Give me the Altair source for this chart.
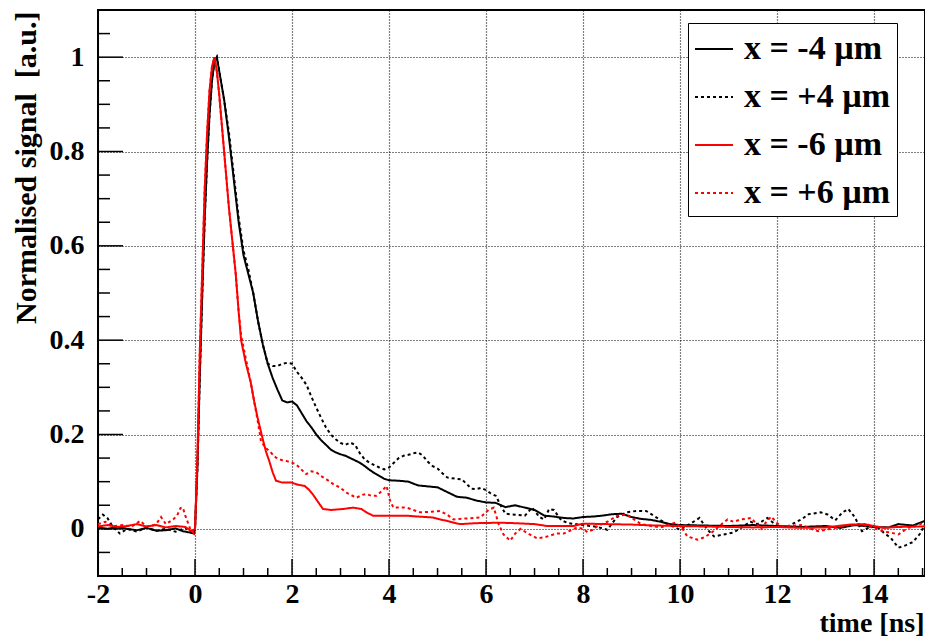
import altair as alt
import pandas as pd

# ---------------- data ----------------
series_names = ["x = -4 µm", "x = +4 µm", "x = -6 µm", "x = +6 µm"]
series_colors = ["#000000", "#000000", "#ff0000", "#ff0000"]

# black solid, x = -4 um
t_m4 = [-2, -1.8, -1.6, -1.4, -1.2, -1.0, -0.8, -0.6, -0.4, -0.25, -0.1, -0.02, 0.0,
        0.05, 0.1, 0.15, 0.2, 0.25, 0.3, 0.35, 0.4, 0.45, 0.5, 0.6, 0.7, 0.8, 0.9, 1.0,
        1.1, 1.2, 1.3, 1.4, 1.5, 1.6, 1.7, 1.8, 1.9, 2.0, 2.1, 2.2, 2.3, 2.4, 2.5, 2.6,
        2.7, 2.8, 2.9, 3.0, 3.1, 3.2, 3.3, 3.4, 3.5, 3.6, 3.7, 3.8, 3.9, 4.0, 4.2, 4.4,
        4.6, 4.8, 5.0, 5.2, 5.4, 5.6, 5.8, 6.0, 6.2, 6.4, 6.6, 6.8, 7.0, 7.2, 7.4, 7.6,
        7.8, 8.0, 8.2, 8.4, 8.6, 8.8, 9.0, 9.2, 9.4, 9.6, 9.8, 10.0, 10.5, 11.0, 11.5,
        12.0, 12.5, 13.0, 13.3, 13.6, 14.0, 14.3, 14.5, 14.8, 15.05]
v_m4 = [0.003, 0.0, 0.004, 0.0, -0.003, 0.002, -0.004, -0.003, 0.001, -0.005, -0.008, -0.01, 0.0,
        0.13, 0.33, 0.5, 0.66, 0.78, 0.88, 0.95, 0.99, 1.0, 0.97, 0.91, 0.83, 0.74, 0.65, 0.58,
        0.54, 0.5, 0.44, 0.39, 0.35, 0.32, 0.295, 0.272, 0.268, 0.27, 0.262, 0.245, 0.228, 0.215, 0.2, 0.188,
        0.178, 0.168, 0.162, 0.158, 0.155, 0.15, 0.145, 0.14, 0.133, 0.125, 0.118, 0.112, 0.106, 0.103, 0.102, 0.1,
        0.092, 0.09, 0.088, 0.078, 0.068, 0.066, 0.06, 0.056, 0.055, 0.046, 0.05, 0.045, 0.04, 0.028, 0.026, 0.023,
        0.022, 0.025, 0.026, 0.028, 0.031, 0.032, 0.025, 0.021, 0.019, 0.015, 0.01, 0.008, 0.007, 0.006, 0.008,
        0.006, 0.004, 0.006, 0.002, 0.008, 0.004, 0.003, 0.01, 0.007, 0.017]

# black dotted, x = +4 um
t_p4 = [-2, -1.9, -1.8, -1.7, -1.55, -1.4, -1.2, -1.0, -0.8, -0.6, -0.4, -0.2, -0.05, 0.0,
        0.05, 0.1, 0.15, 0.2, 0.25, 0.3, 0.35, 0.4, 0.45, 0.5, 0.6, 0.7, 0.8, 0.9, 1.0,
        1.1, 1.2, 1.3, 1.4, 1.5, 1.6, 1.7, 1.8, 1.9, 2.0, 2.1, 2.2, 2.3, 2.4, 2.5, 2.6,
        2.7, 2.8, 2.9, 3.0, 3.1, 3.2, 3.3, 3.4, 3.5, 3.6, 3.7, 3.8, 3.9, 4.0, 4.1, 4.2,
        4.3, 4.4, 4.5, 4.6, 4.7, 4.8, 4.9, 5.0, 5.1, 5.2, 5.3, 5.4, 5.5, 5.6, 5.7, 5.8,
        5.9, 6.0, 6.1, 6.2, 6.3, 6.4, 6.6, 6.8, 6.95, 7.1, 7.2, 7.3, 7.4, 7.55, 7.7, 8.0,
        8.3, 8.5, 8.7, 8.9, 9.1, 9.3, 9.5, 9.7, 10.0, 10.2, 10.4, 10.55, 10.7, 10.9, 11.1,
        11.3, 11.45, 11.6, 11.8, 12.0, 12.2, 12.35, 12.5, 12.65, 12.9, 13.05, 13.2, 13.35,
        13.47, 13.6, 13.75, 13.9, 14.05, 14.2, 14.35, 14.5, 14.65, 14.8, 14.95, 15.05]
v_p4 = [0.02, 0.03, 0.022, 0.005, -0.01, 0.0, -0.006, 0.003, -0.004, 0.0, -0.006, 0.002, -0.01, 0.0,
        0.13, 0.33, 0.5, 0.66, 0.78, 0.88, 0.95, 0.99, 1.0, 0.97, 0.91, 0.84, 0.75, 0.66, 0.59,
        0.55, 0.5, 0.44, 0.39, 0.35, 0.345, 0.345, 0.35, 0.352, 0.35, 0.333, 0.32, 0.305, 0.28, 0.257, 0.235,
        0.215, 0.2, 0.19, 0.182, 0.178, 0.183, 0.178, 0.16, 0.147, 0.14, 0.135, 0.13, 0.126, 0.13, 0.14, 0.15,
        0.155, 0.157, 0.16, 0.162, 0.155, 0.142, 0.133, 0.128, 0.118, 0.109, 0.107, 0.106, 0.105, 0.095, 0.085, 0.084,
        0.087, 0.082, 0.075, 0.07, 0.05, 0.032, 0.03, 0.028, 0.045, 0.025, 0.02, 0.042, 0.04, 0.018, 0.012, 0.008,
        0.004, -0.002, 0.025, 0.035, 0.038, 0.038, 0.025, 0.012, -0.002, 0.01, 0.023, 0.0, -0.016, -0.012, -0.008,
        0.005, 0.015, 0.01, 0.023, 0.006, 0.004, 0.012, 0.02, 0.031, 0.035, 0.03, 0.018, 0.035,
        0.042, 0.025, -0.005, 0.003, 0.005, -0.008, -0.02, -0.04, -0.035, -0.028, -0.01, 0.01]

# red solid, x = -6 um
t_m6 = [-2, -1.8, -1.6, -1.4, -1.2, -1.0, -0.8, -0.6, -0.4, -0.2, -0.08, 0.0,
        0.05, 0.1, 0.15, 0.2, 0.25, 0.3, 0.35, 0.4, 0.45, 0.5, 0.55, 0.6, 0.65, 0.7,
        0.77, 0.84, 0.9, 0.95, 1.05, 1.15, 1.22, 1.29, 1.39, 1.46, 1.53, 1.6, 1.67, 1.8,
        2.0, 2.1, 2.26, 2.35, 2.43, 2.55, 2.64, 2.8, 3.05, 3.26, 3.43, 3.55, 3.67, 4.0,
        4.36, 4.6, 4.91, 5.05, 5.19, 5.46, 5.8, 6.29, 6.6, 7.0, 7.26, 7.81, 8.0, 8.5,
        9.0, 9.5, 10.0, 10.5, 11.0, 11.5, 12.0, 12.5, 13.0, 13.5, 13.8, 14.2, 14.5, 15.0, 15.05]
v_m6 = [0.005, 0.008, 0.004, 0.006, 0.01, 0.005, 0.008, 0.003, 0.006, 0.004, -0.005, 0.0,
        0.15, 0.38, 0.55, 0.72, 0.84, 0.93, 0.98, 1.0, 0.97, 0.92, 0.86, 0.8, 0.74, 0.68,
        0.61, 0.54, 0.46, 0.4, 0.35, 0.31, 0.27, 0.236, 0.193, 0.165, 0.144, 0.12, 0.102, 0.098,
        0.098, 0.094, 0.091, 0.083, 0.073, 0.055, 0.042, 0.04, 0.042, 0.045, 0.042, 0.034, 0.028, 0.028,
        0.028, 0.026, 0.024, 0.02, 0.017, 0.01, 0.012, 0.013, 0.012, 0.01, 0.006, 0.006, 0.011, 0.01,
        0.009, 0.007, 0.006, 0.005, 0.004, 0.003, 0.004, 0.002, 0.003, 0.009, 0.01, 0.002, 0.004, 0.005, 0.006]

# red dotted, x = +6 um
t_p6 = [-2, -1.85, -1.7, -1.5, -1.3, -1.13, -1.0, -0.85, -0.78, -0.7, -0.6, -0.45, -0.37,
        -0.3, -0.25, -0.2, -0.1, -0.02, 0.0,
        0.05, 0.1, 0.15, 0.2, 0.25, 0.3, 0.35, 0.4, 0.45, 0.5, 0.55, 0.6, 0.65, 0.7,
        0.77, 0.84, 0.9, 0.95, 1.05, 1.15, 1.22, 1.29, 1.36, 1.45, 1.53, 1.67, 1.78, 1.88,
        2.0, 2.08, 2.2, 2.29, 2.4, 2.5, 2.6, 2.71, 2.85, 2.98, 3.15, 3.33, 3.45, 3.53,
        3.64, 3.74, 3.85, 3.95, 4.02, 4.09, 4.36, 4.5, 4.64, 4.85, 5.05, 5.2, 5.33, 5.6,
        5.88, 6.05, 6.16, 6.26, 6.36, 6.5, 6.6, 6.71, 6.9, 7.05, 7.2, 7.33, 7.45, 7.6,
        7.75, 7.88, 8.0, 8.09, 8.2, 8.3, 8.5, 8.71, 8.9, 9.05, 9.2, 9.4, 9.6, 9.75, 9.9,
        10.05, 10.15, 10.36, 10.5, 10.64, 10.8, 10.98, 11.1, 11.26, 11.47, 11.58, 11.67,
        11.78, 11.88, 12.0, 12.1, 12.3, 12.5, 12.7, 12.85, 13.0, 13.2, 13.35, 13.5, 13.7,
        13.9, 14.05, 14.2, 14.35, 14.5, 14.6, 14.7, 14.85, 15.0, 15.05]
v_p6 = [0.01, 0.015, 0.005, 0.008, 0.005, 0.017, 0.005, 0.008, 0.013, 0.025, 0.01, 0.02, 0.028,
        0.044, 0.045, 0.028, 0.0, -0.01, 0.0,
        0.15, 0.38, 0.55, 0.72, 0.84, 0.93, 0.98, 1.0, 0.97, 0.92, 0.86, 0.8, 0.74, 0.68,
        0.61, 0.54, 0.46, 0.41, 0.36, 0.31, 0.27, 0.23, 0.186, 0.172, 0.165, 0.151, 0.146, 0.144,
        0.14, 0.137, 0.125, 0.116, 0.122, 0.12, 0.112, 0.105, 0.095, 0.088, 0.075, 0.066, 0.072, 0.074,
        0.07, 0.07, 0.08, 0.091, 0.06, 0.045, 0.045, 0.04, 0.035, 0.036, 0.038, 0.03, 0.02, 0.022,
        0.024, 0.04, 0.045, 0.01, -0.012, -0.025, -0.01, 0.0, -0.012, -0.02, -0.018, -0.014, -0.01, -0.01,
        -0.003, 0.003, 0.0, -0.007, -0.002, 0.006, 0.015, 0.028, 0.03, 0.02, 0.01, 0.006, 0.003, 0.008, 0.013,
        0.0, -0.016, -0.023, -0.018, -0.009, 0.005, 0.02, 0.015, 0.02, 0.023, 0.01, 0.0,
        0.015, 0.026, 0.012, 0.005, 0.006, 0.008, 0.0, -0.005, -0.002, 0.002, 0.006, 0.008, 0.01,
        0.005, 0.0, -0.006, -0.008, -0.012, -0.005, 0.002, 0.006, 0.012, 0.011]

x_major = [-2, 0, 2, 4, 6, 8, 10, 12, 14]
x_minor = [-1.5, -1, -0.5, 0.5, 1, 1.5, 2.5, 3, 3.5, 4.5, 5, 5.5, 6.5, 7, 7.5,
           8.5, 9, 9.5, 10.5, 11, 11.5, 12.5, 13, 13.5, 14.5, 15]
y_major = [0, 0.2, 0.4, 0.6, 0.8, 1.0]
y_minor = [-0.05, 0.05, 0.1, 0.15, 0.25, 0.3, 0.35, 0.45, 0.5, 0.55, 0.65, 0.7,
           0.75, 0.85, 0.9, 0.95, 1.05]

# ---------------- build tables ----------------
rows = []
for name, ts, vs in zip(series_names, [t_m4, t_p4, t_m6, t_p6], [v_m4, v_p4, v_m6, v_p6]):
    for i, (t, v) in enumerate(zip(ts, vs)):
        rows.append({"t": t, "v": v, "series": name, "i": i})
df = pd.DataFrame(rows)

W, H = 827, 566
FONT = "Liberation Serif"
xs = alt.Scale(domain=[-2, 15.05], nice=False, zero=False)
ys = alt.Scale(domain=[-0.1, 1.1], nice=False, zero=False)

x_axis = alt.Axis(
    values=x_major, title="time [ns]", ticks=False, domain=False,
    labelExpr="'' + datum.value", labelFlush=False,
    labelFont=FONT, labelFontWeight="bold", labelFontSize=28, labelPadding=4,
    labelColor="black",
    grid=True, gridDash=[1, 2], gridColor="black", gridOpacity=1, gridWidth=1.2,
    titleFont=FONT, titleFontWeight="bold", titleFontSize=28, titleColor="black",
    titleX=W - 1, titleY=47, titleAlign="right", titleBaseline="middle")
y_axis = alt.Axis(
    values=y_major, labelExpr="'' + datum.value", title="Normalised signal\u00a0\u00a0[a.u.]",
    ticks=False, domain=False, labelFlush=False,
    labelFont=FONT, labelFontWeight="bold", labelFontSize=28, labelPadding=14,
    labelColor="black",
    grid=True, gridDash=[1, 2], gridColor="black", gridOpacity=1, gridWidth=1.2,
    titleFont=FONT, titleFontWeight="bold", titleFontSize=30, titleColor="black",
    titleAngle=270, titleX=-72, titleY=1, titleAlign="right", titleBaseline="middle")

legend = alt.Legend(title=None, orient="none", legendX=590, legendY=13,
                    symbolType="stroke", symbolSize=1444, symbolStrokeWidth=2,
                    labelFont=FONT, labelFontWeight="bold", labelFontSize=34,
                    labelColor="black", labelOffset=10, labelLimit=400,
                    labelExpr="datum.label + '\u2002\u2009'",
                    padding=6, rowPadding=11, strokeColor="black",
                    fillColor="white", cornerRadius=0)

lines = alt.Chart(df).mark_line(strokeWidth=2).encode(
    x=alt.X("t:Q", scale=xs, axis=x_axis),
    y=alt.Y("v:Q", scale=ys, axis=y_axis),
    color=alt.Color("series:N", scale=alt.Scale(domain=series_names, range=series_colors),
                    legend=legend),
    strokeDash=alt.StrokeDash("series:N", scale=alt.Scale(domain=series_names,
                                                          range=[[1, 0], [3, 3], [1, 0], [3, 3]]),
                              legend=legend),
    order="i:Q",
)

xmaj = alt.Chart(pd.DataFrame({"t": x_major})).mark_rule(color="black", strokeWidth=1.5).encode(
    x=alt.X("t:Q", scale=xs, axis=x_axis), y=alt.value(H), y2=alt.value(H - 17))
xmin = alt.Chart(pd.DataFrame({"t": x_minor})).mark_rule(color="black", strokeWidth=1.5).encode(
    x=alt.X("t:Q", scale=xs, axis=x_axis), y=alt.value(H), y2=alt.value(H - 8))
ymaj = alt.Chart(pd.DataFrame({"v": y_major})).mark_rule(color="black", strokeWidth=1.5).encode(
    y=alt.Y("v:Q", scale=ys, axis=y_axis), x=alt.value(0), x2=alt.value(25))
ymin = alt.Chart(pd.DataFrame({"v": y_minor})).mark_rule(color="black", strokeWidth=1.5).encode(
    y=alt.Y("v:Q", scale=ys, axis=y_axis), x=alt.value(0), x2=alt.value(12))

chart = alt.layer(lines, xmaj, xmin, ymaj, ymin).properties(
    width=W, height=H,
    autosize=alt.AutoSizeParams(type="none"),
    padding={"left": 90, "top": 2, "right": 0, "bottom": 62},
    background="white",
).configure_view(stroke="black", strokeWidth=2)

chart.save("out.html", embed_options={"renderer": "svg", "actions": False})
